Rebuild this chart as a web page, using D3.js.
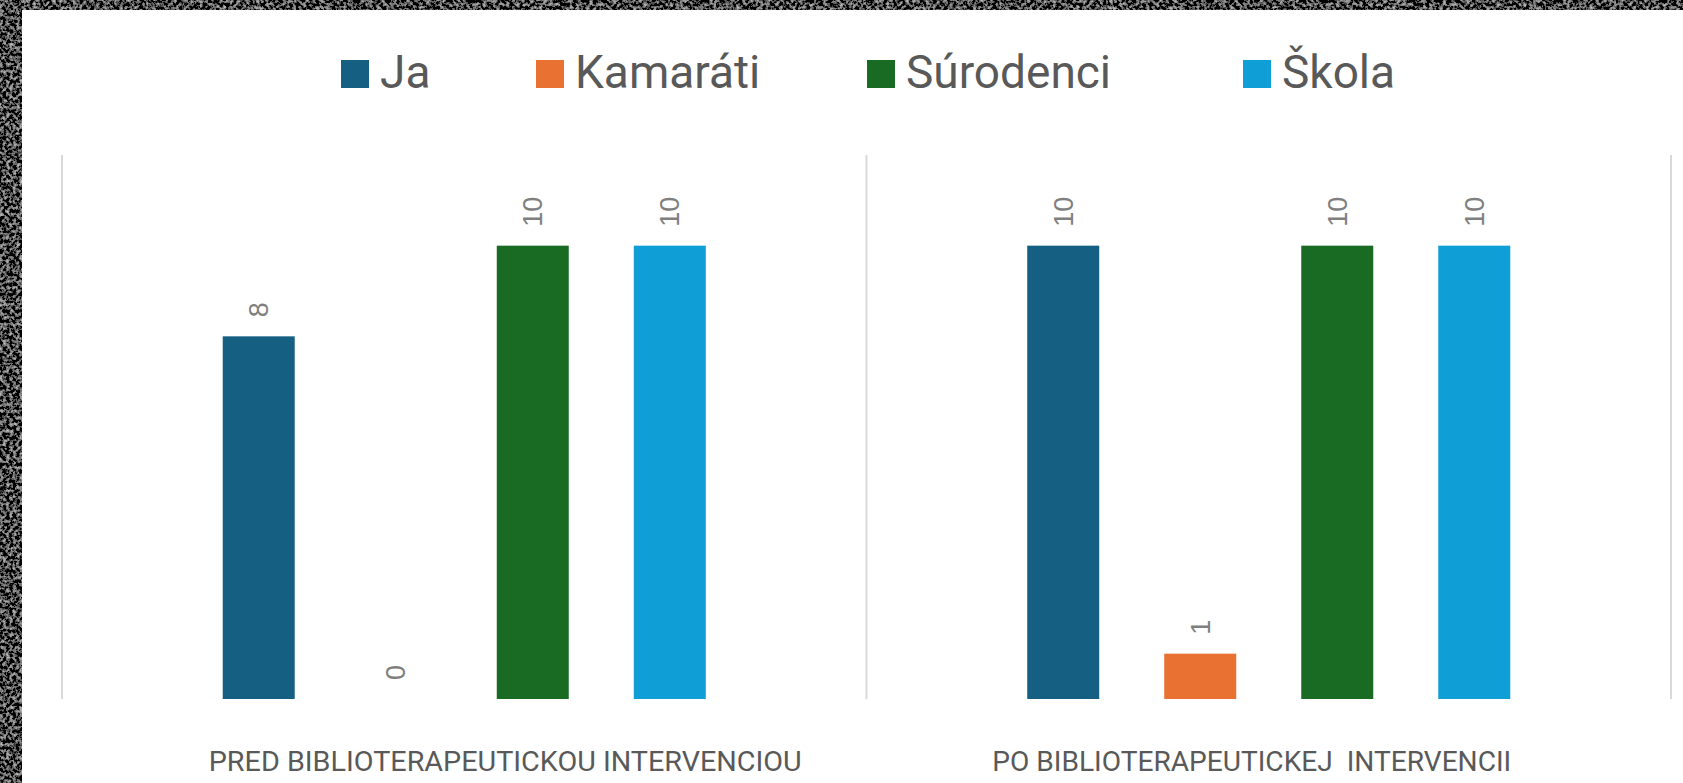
<!DOCTYPE html>
<html><head><meta charset="utf-8">
<script src="https://cdn.jsdelivr.net/npm/d3@7/dist/d3.min.js"></script>
<style>html,body{margin:0;padding:0;overflow:hidden;background:#1c1c1c}</style>
</head><body><svg id="c" width="1683" height="783"></svg>
<script>
// ---- data ----
const categories = ["PRED BIBLIOTERAPEUTICKOU INTERVENCIOU", "PO BIBLIOTERAPEUTICKEJ  INTERVENCII"];
const seriesNames = ["Ja", "Kamaráti", "Súrodenci", "Škola"];
const jaValues = [8, 10];
const kamaratiValues = [0, 1];
const surodenciValues = [10, 10];
const skolaValues = [10, 10];
const yDomain = [0, 12];

// ---- style ----
const seriesColors = ["#156082", "#E97132", "#196B24", "#0F9ED5"];
const labelShift = [41, -17];
const labelWidths = [593, 519];
const legendX = [341, 536, 867, 1243];

const seriesValues = [jaValues, kamaratiValues, surodenciValues, skolaValues];
const table = categories.map((c, i) => ({
  cat: c,
  vals: seriesNames.map((s, j) => ({ series: s, value: seriesValues[j][i], color: seriesColors[j] }))
}));

const svg = d3.select("#c");
const W = 1683, H = 783;

// granite-like background
const defs = svg.append("defs");
const f = defs.append("filter").attr("id", "granite").attr("x", 0).attr("y", 0).attr("width", "100%").attr("height", "100%");
f.append("feTurbulence").attr("type", "fractalNoise").attr("baseFrequency", 0.3).attr("numOctaves", 3).attr("seed", 7);
f.append("feColorMatrix").attr("type", "matrix")
  .attr("values", "1.3 0 0 0 -0.58  1.3 0 0 0 -0.58  1.3 0 0 0 -0.58  0 0 0 0 1");
svg.append("rect").attr("width", W).attr("height", H).attr("fill", "#111111");
svg.append("rect").attr("width", W).attr("height", H).attr("filter", "url(#granite)");

// white chart area
svg.append("rect").attr("x", 22).attr("y", 10).attr("width", W).attr("height", H).attr("fill", "#ffffff");

// scales
const x0 = d3.scaleBand().domain(categories).range([62, 1671]);
const x1 = d3.scaleBand().domain(seriesNames).range([0, x0.bandwidth()]).paddingInner(0.4745).paddingOuter(1.173);
const y = d3.scaleLinear().domain(yDomain).range([699, 155]);

// separators
const bounds = categories.map(c => x0(c)).concat([x0(categories[categories.length - 1]) + x0.bandwidth()]);
svg.append("g").selectAll("line").data(bounds).join("line")
  .attr("x1", d => d).attr("x2", d => d)
  .attr("y1", y(yDomain[1])).attr("y2", y(0))
  .attr("stroke", "#d9d9d9").attr("stroke-width", 2);

// bars
const groups = svg.append("g").selectAll("g").data(table).join("g")
  .attr("transform", d => `translate(${x0(d.cat)},0)`);
groups.selectAll("rect").data(d => d.vals).join("rect")
  .attr("x", d => x1(d.series)).attr("width", x1.bandwidth())
  .attr("y", d => y(d.value)).attr("height", d => y(0) - y(d.value))
  .attr("fill", d => d.color);

// data labels
groups.selectAll("text").data(d => d.vals).join("text")
  .attr("transform", d => `translate(${x1(d.series) + x1.bandwidth() / 2},${y(d.value) - 19}) rotate(-90)`)
  .attr("text-anchor", "start").attr("dy", "0.35em")
  .attr("font-family", "'Liberation Sans', Arial, sans-serif").attr("font-size", 27)
  .attr("fill", "#7f7f7f")
  .text(d => d.value);

// category labels
svg.append("g").selectAll("text").data(categories).join("text")
  .attr("x", (d, i) => x0(d) + x0.bandwidth() / 2 + labelShift[i])
  .attr("y", 771)
  .attr("text-anchor", "middle")
  .attr("font-family", "Roboto, sans-serif").attr("font-size", 27)
  .attr("fill", "#595959")
  .style("white-space", "pre")
  .attr("textLength", (d, i) => labelWidths[i]).attr("lengthAdjust", "spacingAndGlyphs")
  .text(d => d);

// legend
const sq = 28, gapText = 11;
const leg = svg.append("g").selectAll("g").data(seriesNames).join("g")
  .attr("transform", (d, i) => `translate(${legendX[i]},0)`);
leg.append("rect").attr("x", 0).attr("y", 60).attr("width", sq).attr("height", sq)
  .attr("fill", (d, i) => seriesColors[i]);
leg.append("text").attr("x", sq + gapText).attr("y", 88)
  .attr("font-family", "Roboto, sans-serif").attr("font-size", 46).attr("fill", "#595959")
  .text(d => d);
</script>
</body></html>
